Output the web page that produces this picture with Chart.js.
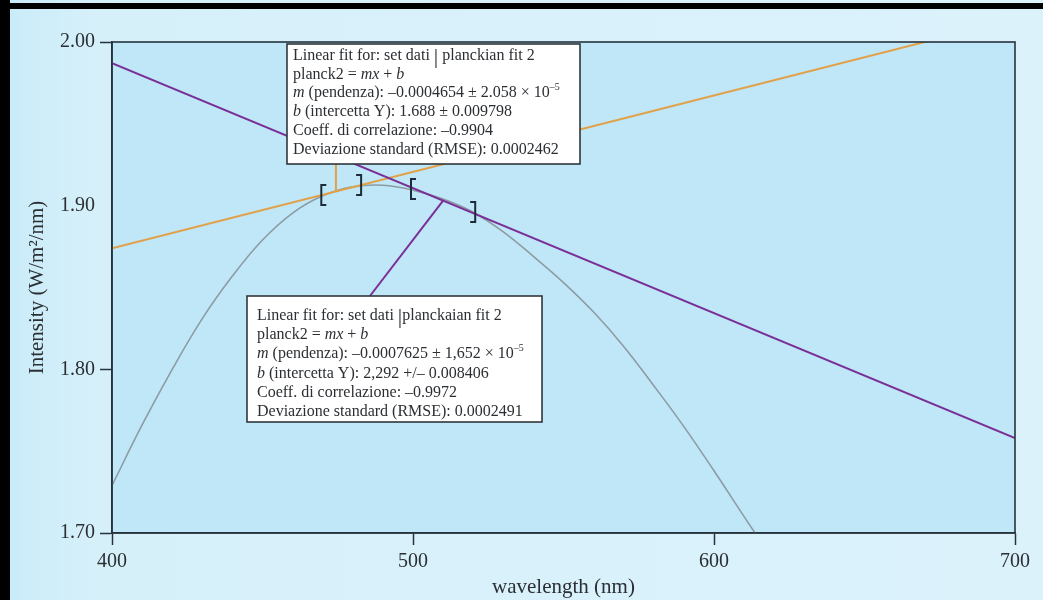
<!DOCTYPE html>
<html>
<head>
<meta charset="utf-8">
<script src="https://cdn.jsdelivr.net/npm/chart.js@4/dist/chart.umd.min.js"></script>
<style>
  html, body { margin: 0; padding: 0; background: #d8f1fb; }
  canvas { display: block; }
</style>
</head>
<body>
<canvas id="chart" width="1043" height="600" style="width:1043px;height:600px"></canvas>
<script>
// Axis ticks
const xTicks = [400, 500, 600, 700];
const yTicks = [1.70, 1.80, 1.90, 2.00];

// Measured spectrum (planck2 set)
const spectrumX = [400, 410, 420, 430, 440, 450, 460, 470, 480, 490, 500, 510, 520, 530, 540, 550, 560, 570, 580, 590, 600, 610, 614];
const spectrumY = [1.729, 1.766, 1.800, 1.831, 1.857, 1.879, 1.8955, 1.9060, 1.9115, 1.9125, 1.9095, 1.9040, 1.8960, 1.8840, 1.8690, 1.8530, 1.8350, 1.8140, 1.7900, 1.7650, 1.7380, 1.7100, 1.6990];

// Linear fit lines (end points)
const fitOrangeX = [400, 700];
const fitOrangeY = [1.874, 2.014];
const fitPurpleX = [400, 700];
const fitPurpleY = [1.987, 1.758];

// Leader lines from the result boxes to the fits
const leadOrangeX = [474.4, 474.4];
const leadOrangeY = [1.9255, 1.9088];
const leadPurpleX = [485.7, 510];
const leadPurpleY = [1.8448, 1.9031];

// Fit range brackets [start, end]
const rangeOrangeX = [470.2, 482.1];
const rangeOrangeY = [1.9065, 1.9126];
const rangePurpleX = [500, 520];
const rangePurpleY = [1.9102, 1.8961];

// Result box texts: each line is a list of [text, style]
const boxOrangeLines = [
  [['Linear fit for: set dati '], ['|', 'bar'], [' planckian fit 2']],
  [['planck2 = '], ['mx', 'i'], [' + '], ['b', 'i']],
  [['m', 'i'], [' (pendenza): –0.0004654 ± 2.058 × 10'], ['–5', 'sup']],
  [['b', 'i'], [' (intercetta Y): 1.688 ± 0.009798']],
  [['Coeff. di correlazione: –0.9904']],
  [['Deviazione standard (RMSE): 0.0002462']]
];
const boxPurpleLines = [
  [['Linear fit for: set dati '], ['|', 'bar'], ['planckaian fit 2']],
  [['planck2 = '], ['mx', 'i'], [' + '], ['b', 'i']],
  [['m', 'i'], [' (pendenza): –0.0007625 ± 1,652 × 10'], ['–5', 'sup']],
  [['b', 'i'], [' (intercetta Y): 2,292 +/– 0.008406']],
  [['Coeff. di correlazione: –0.9972']],
  [['Deviazione standard (RMSE): 0.0002491']]
];

const SERIF = '"Liberation Serif", "Times New Roman", serif';
const INK = '#2b2f33';
const AXIS = '#26323c';
const ORANGE = '#e2a048';
const PURPLE = '#7a2f98';
const GREY = '#8d9ca3';

const pts = (xs, ys) => xs.map((x, i) => ({ x: x, y: ys[i] }));

function drawRich(ctx, x, y, segs, size) {
  let cx = x;
  for (const [txt, kind] of segs) {
    let font = `${size}px ${SERIF}`;
    let dy = 0;
    if (kind === 'i') font = `italic ${size}px ${SERIF}`;
    if (kind === 'sup') { font = `${Math.round(size * 0.62)}px ${SERIF}`; dy = -size * 0.45; }
    if (kind === 'bar') { font = `${Math.round(size * 1.4)}px ${SERIF}`; dy = 3; }
    ctx.font = font;
    ctx.fillText(txt, cx, y + dy);
    cx += ctx.measureText(txt).width;
  }
}

const framePlugin = {
  id: 'frame',
  beforeDraw(chart) {
    const { ctx, chartArea: a, width, height } = chart;
    ctx.save();
    const g = ctx.createLinearGradient(0, 0, width, 0);
    g.addColorStop(0, '#c8ebf8');
    g.addColorStop(0.09, '#d6f0fa');
    g.addColorStop(1, '#dbf2fb');
    ctx.fillStyle = g;
    ctx.fillRect(0, 0, width, height);
    ctx.fillStyle = '#000';
    ctx.fillRect(0, 3, width, 6);
    ctx.fillRect(0, 0, 10, height);
    ctx.fillStyle = '#bfe7f7';
    ctx.fillRect(a.left, a.top, a.right - a.left, a.bottom - a.top);
    ctx.restore();
  },
  afterDatasetsDraw(chart) {
    const { ctx, chartArea: a, scales } = chart;
    const xs = scales.x, ys = scales.y;
    ctx.save();
    // fit range brackets
    ctx.strokeStyle = '#1e2b38';
    ctx.lineWidth = 2;
    const bracket = (xv, yv, open) => {
      const px = xs.getPixelForValue(xv), py = ys.getPixelForValue(yv);
      const h = 10, w = 5;
      const vx = open ? px - 2 : px + 2;
      const sx = open ? vx + w : vx - w;
      ctx.beginPath();
      ctx.moveTo(sx, py - h);
      ctx.lineTo(vx, py - h);
      ctx.lineTo(vx, py + h);
      ctx.lineTo(sx, py + h);
      ctx.stroke();
    };
    bracket(rangeOrangeX[0], rangeOrangeY[0], true);
    bracket(rangeOrangeX[1], rangeOrangeY[1], false);
    bracket(rangePurpleX[0], rangePurpleY[0], true);
    bracket(rangePurpleX[1], rangePurpleY[1], false);

    // result boxes
    const boxes = chart.options.plugins.frame.boxes;
    for (const b of boxes) {
      ctx.fillStyle = '#ffffff';
      ctx.fillRect(b.left, b.top, b.width, b.height);
      ctx.strokeStyle = '#30363b';
      ctx.lineWidth = 1.6;
      ctx.strokeRect(b.left, b.top, b.width, b.height);
      ctx.fillStyle = INK;
      ctx.textBaseline = 'alphabetic';
      ctx.textAlign = 'left';
      b.lines.forEach((segs, i) => {
        drawRich(ctx, b.left + b.padX, b.top + b.base + i * b.step, segs, b.size);
      });
    }

    // plot frame
    ctx.strokeStyle = AXIS;
    ctx.lineWidth = 1.6;
    ctx.strokeRect(a.left, a.top, a.right - a.left, a.bottom - a.top);
    ctx.restore();
  }
};

const tickFont = { family: SERIF, size: 20 };
const titleFont = { family: SERIF, size: 21 };

new Chart(document.getElementById('chart'), {
  type: 'line',
  data: {
    datasets: [
      { data: pts(fitPurpleX, fitPurpleY), borderColor: PURPLE, borderWidth: 2, order: 1 },
      { data: pts(leadPurpleX, leadPurpleY), borderColor: PURPLE, borderWidth: 2, order: 1 },
      { data: pts(fitOrangeX, fitOrangeY), borderColor: ORANGE, borderWidth: 2, order: 2 },
      { data: pts(leadOrangeX, leadOrangeY), borderColor: ORANGE, borderWidth: 2, order: 2 },
      { data: pts(spectrumX, spectrumY), borderColor: GREY, borderWidth: 1.6, tension: 0.4, order: 3 }
    ]
  },
  options: {
    responsive: false,
    animation: false,
    events: [],
    elements: { point: { radius: 0 }, line: { fill: false } },
    datasets: { line: { clip: 0 } },
    layout: { padding: { left: 10, top: 42, right: 28, bottom: 0 } },
    plugins: {
      legend: { display: false },
      tooltip: { enabled: false },
      frame: {
        boxes: [
          { left: 287, top: 44, width: 293, height: 120, padX: 6, base: 16, step: 18.7, size: 16, lines: boxOrangeLines },
          { left: 247, top: 296, width: 295, height: 126, padX: 10, base: 24, step: 19.2, size: 16, lines: boxPurpleLines }
        ]
      }
    },
    scales: {
      x: {
        type: 'linear',
        min: 400,
        max: 700,
        afterBuildTicks: s => { s.ticks = xTicks.map(v => ({ value: v })); },
        afterFit: s => { s.height = 67; },
        ticks: { font: tickFont, color: INK, padding: 5, maxRotation: 0, callback: v => String(v) },
        grid: { drawOnChartArea: false, drawTicks: true, tickLength: 12, tickColor: AXIS, tickWidth: 1.5 },
        border: { display: true, color: AXIS, width: 1.6 },
        title: { display: true, text: 'wavelength (nm)', font: titleFont, color: INK, padding: { top: 0, bottom: 0 } }
      },
      y: {
        type: 'linear',
        min: 1.70,
        max: 2.00,
        afterBuildTicks: s => { s.ticks = yTicks.map(v => ({ value: v })); },
        afterFit: s => { s.width = 102; },
        ticks: { font: tickFont, color: INK, padding: 5, callback: v => v.toFixed(2) },
        grid: {
          drawOnChartArea: false, drawTicks: true, tickLength: 12, tickWidth: 1.5,
          tickColor: c => (c.tick && Math.abs(c.tick.value - 1.9) < 1e-6) ? 'rgba(0,0,0,0)' : AXIS
        },
        border: { display: true, color: AXIS, width: 1.6 },
        title: { display: true, text: 'Intensity (W/m²/nm)', font: titleFont, color: INK, padding: { top: 15, bottom: 0 } }
      }
    }
  },
  plugins: [framePlugin]
});
</script>
</body>
</html>
